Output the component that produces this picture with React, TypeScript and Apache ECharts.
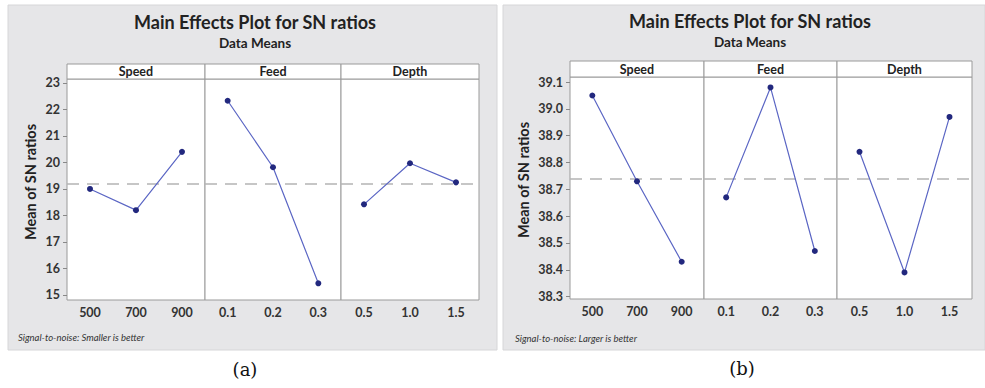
import React, { useEffect, useRef } from "react";
import * as echarts from "echarts";

// ---- data ----
const speedLevels = ["500", "700", "900"];
const feedLevels = ["0.1", "0.2", "0.3"];
const depthLevels = ["0.5", "1.0", "1.5"];
const factorNames = ["Speed", "Feed", "Depth"];

// (a) Signal-to-noise: Smaller is better
const smallerSpeed = [19.0, 18.2, 20.4];
const smallerFeed = [22.33, 19.82, 15.44];
const smallerDepth = [18.42, 19.97, 19.25];
const smallerTicks = [15, 16, 17, 18, 19, 20, 21, 22, 23];

// (b) Signal-to-noise: Larger is better
const largerSpeed = [39.05, 38.73, 38.43];
const largerFeed = [38.67, 39.08, 38.47];
const largerDepth = [38.84, 38.39, 38.97];
const largerTicks = [38.3, 38.4, 38.5, 38.6, 38.7, 38.8, 38.9, 39.0, 39.1];

const FONT = "Lato, 'Open Sans', sans-serif";
const LINE_COLOR = "#5b66c4";
const DOT_COLOR = "#22287e";

type Panel = {
  bg: [number, number, number, number];
  lefts: number[];
  top: number;
  bottom: number;
  stripTop: number;
  min: number;
  max: number;
  ticks: number[];
  decimals: number;
  series: number[][];
  titleX: number;
  titleY: number;
  subY: number;
  yNameX: number;
  yNameY: number;
  foot: string;
  footX: number;
  footY: number;
  tag: string;
  tagX: number;
  tagY: number;
};

const panels: Panel[] = [
  {
    bg: [8, 5, 489, 345],
    lefts: [67, 205, 341, 479],
    top: 79,
    bottom: 300,
    stripTop: 64,
    min: 14.81,
    max: 23.15,
    ticks: smallerTicks,
    decimals: 0,
    series: [smallerSpeed, smallerFeed, smallerDepth],
    titleX: 255,
    titleY: 22,
    subY: 43,
    yNameX: 30,
    yNameY: 182,
    foot: "Signal-to-noise: Smaller is better",
    footX: 18,
    footY: 337,
    tag: "(a)",
    tagX: 245,
    tagY: 369,
  },
  {
    bg: [503, 5, 482, 345],
    lefts: [570, 704, 837, 972],
    top: 77,
    bottom: 299,
    stripTop: 61,
    min: 38.291,
    max: 39.119,
    ticks: largerTicks,
    decimals: 1,
    series: [largerSpeed, largerFeed, largerDepth],
    titleX: 750,
    titleY: 21,
    subY: 42,
    yNameX: 523,
    yNameY: 180,
    foot: "Signal-to-noise: Larger is better",
    footX: 515,
    footY: 338,
    tag: "(b)",
    tagX: 742,
    tagY: 368,
  },
];

const levels = [speedLevels, feedLevels, depthLevels];

function buildOption() {
  const grid: any[] = [];
  const xAxis: any[] = [];
  const yAxis: any[] = [];
  const series: any[] = [];
  const graphic: any[] = [];

  panels.forEach((p) => {
    const all = p.series.flat();
    const mean = all.reduce((a, b) => a + b, 0) / all.length;
    graphic.push({
      type: "rect",
      z: -10,
      shape: { x: p.bg[0], y: p.bg[1], width: p.bg[2], height: p.bg[3] },
      style: { fill: "#e6e6e8", stroke: "#d6d6d8", lineWidth: 1 },
    });
    graphic.push({
      type: "text",
      x: p.titleX,
      y: p.titleY,
      z: 10,
      style: {
        text: "Main Effects Plot for SN ratios",
        fontFamily: FONT,
        fontSize: 18,
        fontWeight: "bold",
        fill: "#222",
        align: "center",
        verticalAlign: "middle",
      },
    });
    graphic.push({
      type: "text",
      x: p.titleX,
      y: p.subY,
      z: 10,
      style: {
        text: "Data Means",
        fontFamily: FONT,
        fontSize: 13.5,
        fontWeight: "bold",
        fill: "#222",
        align: "center",
        verticalAlign: "middle",
      },
    });
    graphic.push({
      type: "text",
      x: p.yNameX,
      y: p.yNameY,
      z: 10,
      rotation: Math.PI / 2,
      style: {
        text: "Mean of SN ratios",
        fontFamily: FONT,
        fontSize: 14.5,
        fontWeight: "bold",
        fill: "#222",
        align: "center",
        verticalAlign: "middle",
      },
    });
    graphic.push({
      type: "text",
      x: p.footX,
      y: p.footY,
      z: 10,
      style: {
        text: p.foot,
        fontFamily: FONT,
        fontSize: 9.5,
        fontStyle: "italic",
        fill: "#333",
        align: "left",
        verticalAlign: "middle",
      },
    });
    graphic.push({
      type: "text",
      x: p.tagX,
      y: p.tagY,
      z: 10,
      style: {
        text: p.tag,
        fontFamily: "'DejaVu Serif', 'Liberation Serif', serif",
        fontSize: 18,
        fill: "#111",
        align: "center",
        verticalAlign: "middle",
      },
    });

    for (let f = 0; f < 3; f++) {
      const left = p.lefts[f];
      const width = p.lefts[f + 1] - left;
      const gi = grid.length;
      // strip
      graphic.push({
        type: "rect",
        z: 5,
        shape: { x: left, y: p.stripTop, width, height: p.top - p.stripTop },
        style: { fill: "#ffffff", stroke: "#9a9a9a", lineWidth: 1 },
      });
      graphic.push({
        type: "text",
        x: left + width / 2,
        y: (p.stripTop + p.top) / 2,
        z: 10,
        style: {
          text: factorNames[f],
          fontFamily: FONT,
          fontSize: 12.5,
          fontWeight: "bold",
          fill: "#222",
          align: "center",
          verticalAlign: "middle",
        },
      });
      grid.push({
        left,
        top: p.top,
        width,
        height: p.bottom - p.top,
        show: true,
        backgroundColor: "#ffffff",
        borderColor: "#9a9a9a",
        borderWidth: 1,
      });
      xAxis.push({
        type: "category",
        gridIndex: gi,
        data: levels[f],
        boundaryGap: true,
        axisLine: { show: false },
        axisTick: { show: false },
        axisLabel: {
          margin: 6,
          fontFamily: FONT,
          fontSize: 12.5,
          fontWeight: "bold",
          color: "#333",
        },
        splitLine: { show: false },
      });
      yAxis.push({
        type: "value",
        gridIndex: gi,
        min: p.min,
        max: p.max,
        axisLine: { show: false },
        splitLine: { show: false },
        axisTick: {
          show: f === 0,
          length: 4,
          customValues: p.ticks,
          lineStyle: { color: "#888" },
        },
        axisLabel: {
          show: f === 0,
          margin: 7,
          customValues: p.ticks,
          fontFamily: FONT,
          fontSize: 12.5,
          fontWeight: "bold",
          color: "#333",
          formatter: (v: number) => v.toFixed(p.decimals),
        },
      });
      series.push({
        type: "line",
        xAxisIndex: gi,
        yAxisIndex: gi,
        data: p.series[f],
        symbol: "circle",
        symbolSize: 6,
        itemStyle: { color: DOT_COLOR },
        lineStyle: { color: LINE_COLOR, width: 1.2 },
        z: 3,
        markLine: {
          silent: true,
          symbol: "none",
          label: { show: false },
          lineStyle: { color: "#b4b4b4", type: [12, 8], width: 1.5 },
          data: [{ yAxis: mean }],
          z: 2,
        },
      });
    }
  });

  return {
    animation: false,
    backgroundColor: "#ffffff",
    grid,
    xAxis,
    yAxis,
    series,
    graphic,
  };
}

export default function App() {
  const ref = useRef<HTMLDivElement>(null);
  useEffect(() => {
    document.body.style.margin = "0";
    if (!ref.current) return;
    const chart = echarts.init(ref.current, undefined, { renderer: "svg" });
    chart.setOption(buildOption() as any);
    return () => chart.dispose();
  }, []);
  return <div ref={ref} style={{ width: 985, height: 388 }} />;
}
